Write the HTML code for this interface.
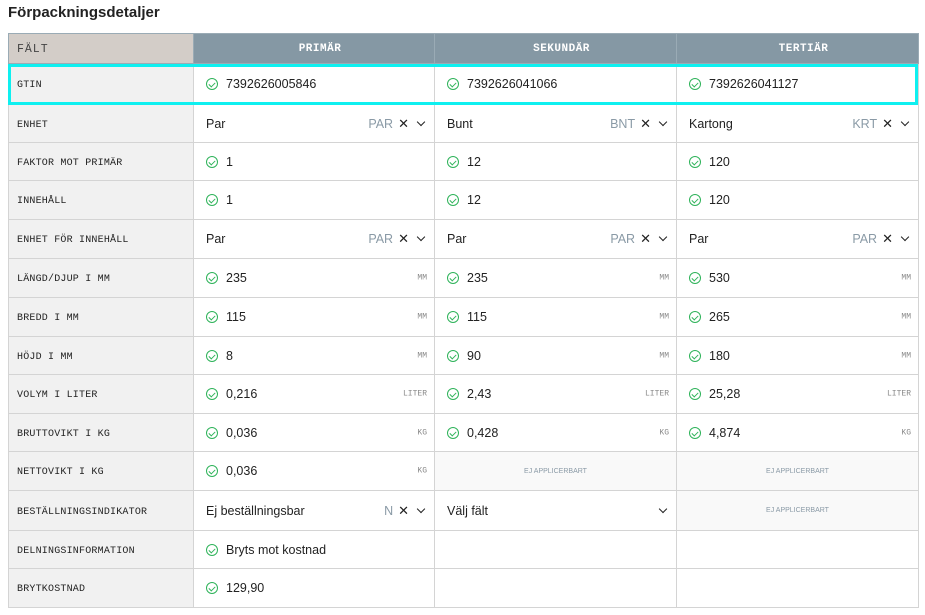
<!DOCTYPE html>
<html><head><meta charset="utf-8"><style>
*{box-sizing:border-box;margin:0;padding:0}
body{width:925px;height:615px;background:#fff;font-family:"Liberation Sans",sans-serif;position:relative;overflow:hidden;color:#222}
h1{position:absolute;left:8px;top:4px;font-size:15px;font-weight:bold;color:#222}
table{position:absolute;left:8px;top:33px;width:910px;border-collapse:collapse;table-layout:fixed}
td,th{border:1px solid #d4d4d4;position:relative;font-size:12.5px;padding:0 0 0 12px;white-space:nowrap}
th{height:30px;background:#8598a4;color:#fff;font-family:"Liberation Mono",monospace;font-size:11px;font-weight:bold;letter-spacing:.5px;text-align:center;border-color:#9aabb5;vertical-align:middle}
th.f{background:#d3cdc8;color:#444;text-align:left;padding:2px 0 0 8px;font-weight:normal;font-size:11.5px;letter-spacing:1px}
td.l{background:#f1f1f1;font-family:"Liberation Mono",monospace;font-size:10px;color:#222;padding:3px 0 0 8px;letter-spacing:.2px}
.c{display:inline-block;width:12px;height:12px;border:1.3px solid #2fb35a;border-radius:50%;vertical-align:-2px;margin-right:8px;position:relative}
.c:after{content:"";position:absolute;left:3px;top:2px;width:3px;height:5px;border:solid #2fb35a;border-width:0 1.3px 1.3px 0;transform:rotate(45deg)}
.u{position:absolute;right:7px;top:50%;transform:translateY(-50%);font-family:"Liberation Mono",monospace;font-size:8px;color:#888}
.s{position:absolute;right:10px;top:50%;transform:translateY(-50%);font-size:12.5px;color:#8a9aa6;display:flex;align-items:center}
.s b{color:#222;font-weight:normal;margin-left:5px;font-size:13px}
.s i{display:inline-block;width:6px;height:6px;border:solid #222;border-width:0 1.2px 1.2px 0;transform:rotate(45deg);margin:-4px 0 0 9px}
.na{background:#f9f9f9;text-align:center;padding:0;font-size:7px;color:#8a9aa6}
.box{position:absolute;left:8px;top:64px;width:910px;height:41px;border:3px solid #0ef0f0}
</style></head><body>
<h1>Förpackningsdetaljer</h1>
<table>
<colgroup><col style="width:185px"><col style="width:241px"><col style="width:242px"><col style="width:242px"></colgroup>
<tr><th class="f">FÄLT</th><th>PRIMÄR</th><th>SEKUNDÄR</th><th>TERTIÄR</th></tr>
<tr style="height:41px"><td class="l">GTIN</td><td><span class="c"></span>7392626005846</td><td><span class="c"></span>7392626041066</td><td><span class="c"></span>7392626041127</td></tr>
<tr style="height:38px"><td class="l">ENHET</td><td>Par<span class="s">PAR<b>✕</b><i></i></span></td><td>Bunt<span class="s">BNT<b>✕</b><i></i></span></td><td>Kartong<span class="s">KRT<b>✕</b><i></i></span></td></tr>
<tr style="height:38px"><td class="l">FAKTOR MOT PRIMÄR</td><td><span class="c"></span>1</td><td><span class="c"></span>12</td><td><span class="c"></span>120</td></tr>
<tr style="height:39px"><td class="l">INNEHÅLL</td><td><span class="c"></span>1</td><td><span class="c"></span>12</td><td><span class="c"></span>120</td></tr>
<tr style="height:39px"><td class="l">ENHET FÖR INNEHÅLL</td><td>Par<span class="s">PAR<b>✕</b><i></i></span></td><td>Par<span class="s">PAR<b>✕</b><i></i></span></td><td>Par<span class="s">PAR<b>✕</b><i></i></span></td></tr>
<tr style="height:39px"><td class="l">LÄNGD/DJUP I MM</td><td><span class="c"></span>235<span class="u">MM</span></td><td><span class="c"></span>235<span class="u">MM</span></td><td><span class="c"></span>530<span class="u">MM</span></td></tr>
<tr style="height:39px"><td class="l">BREDD I MM</td><td><span class="c"></span>115<span class="u">MM</span></td><td><span class="c"></span>115<span class="u">MM</span></td><td><span class="c"></span>265<span class="u">MM</span></td></tr>
<tr style="height:38px"><td class="l">HÖJD I MM</td><td><span class="c"></span>8<span class="u">MM</span></td><td><span class="c"></span>90<span class="u">MM</span></td><td><span class="c"></span>180<span class="u">MM</span></td></tr>
<tr style="height:39px"><td class="l">VOLYM I LITER</td><td><span class="c"></span>0,216<span class="u">LITER</span></td><td><span class="c"></span>2,43<span class="u">LITER</span></td><td><span class="c"></span>25,28<span class="u">LITER</span></td></tr>
<tr style="height:38px"><td class="l">BRUTTOVIKT I KG</td><td><span class="c"></span>0,036<span class="u">KG</span></td><td><span class="c"></span>0,428<span class="u">KG</span></td><td><span class="c"></span>4,874<span class="u">KG</span></td></tr>
<tr style="height:39px"><td class="l">NETTOVIKT I KG</td><td><span class="c"></span>0,036<span class="u">KG</span></td><td class="na">EJ APPLICERBART</td><td class="na">EJ APPLICERBART</td></tr>
<tr style="height:40px"><td class="l">BESTÄLLNINGSINDIKATOR</td><td>Ej beställningsbar<span class="s">N<b>✕</b><i></i></span></td><td>Välj fält<span class="s"><i></i></span></td><td class="na">EJ APPLICERBART</td></tr>
<tr style="height:38px"><td class="l">DELNINGSINFORMATION</td><td><span class="c"></span>Bryts mot kostnad</td><td></td><td></td></tr>
<tr style="height:39px"><td class="l">BRYTKOSTNAD</td><td><span class="c"></span>129,90</td><td></td><td></td></tr>
</table>
<div class="box"></div>
</body></html>
